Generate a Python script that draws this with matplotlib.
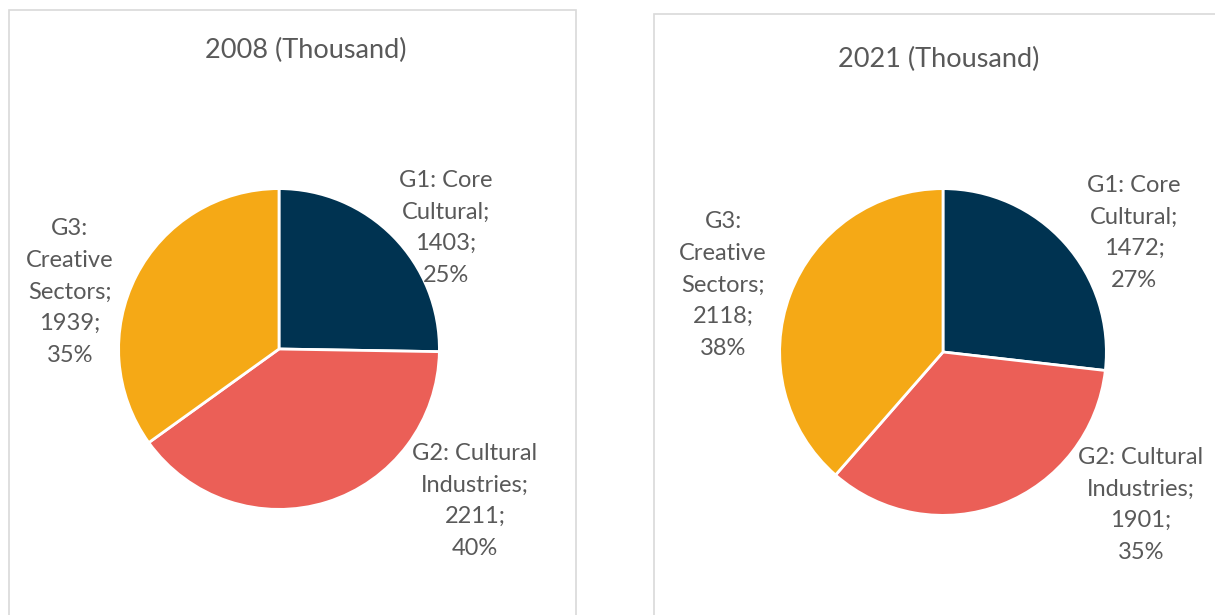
import matplotlib.pyplot as plt
from matplotlib.patches import Rectangle

W, H = 1215, 615

names = ["G1: Core\nCultural", "G2: Cultural\nIndustries", "G3:\nCreative\nSectors"]
colors = ["#003351", "#EB5F57", "#F5A916"]

titles = ["2008 (Thousand)", "2021 (Thousand)"]
values_2008 = [1403, 2211, 1939]
values_2021 = [1472, 1901, 2118]
pcts_2008 = [25, 40, 35]
pcts_2021 = [27, 35, 38]

# layout in pixels: panel box, pie centre/radius, title pos, label centres
panels = [
    dict(box=(9, 10, 576, 640), cx=279, cy=349, r=162, title=(306, 50),
         labels=[(446, 228), (475, 501), (70, 292)]),
    dict(box=(654, 14, 1240, 640), cx=943, cy=352, r=165, title=(939, 59),
         labels=[(1134, 233), (1141, 505), (723, 285)]),
]
data = [(values_2008, pcts_2008), (values_2021, pcts_2021)]

plt.rcParams['font.family'] = ['Lato', 'DejaVu Sans']
txt_color = "#595959"

fig = plt.figure(figsize=(W / 100, H / 100), dpi=100)


def fx(x):
    return x / W


def fy(y):
    return 1 - y / H


for p, (vals, pcts), title in zip(panels, data, titles):
    x0, y0, x1, y1 = p["box"]
    fig.patches.append(Rectangle((fx(x0), fy(y1)), fx(x1 - x0), (y1 - y0) / H,
                                 transform=fig.transFigure, fill=False,
                                 edgecolor="#D9D9D9", lw=1.2))
    ax = fig.add_axes([fx(p["cx"] - p["r"]), fy(p["cy"] + p["r"]),
                       2 * p["r"] / W, 2 * p["r"] / H])
    ax.pie(vals, colors=colors, startangle=90, counterclock=False,
           wedgeprops=dict(edgecolor="white", linewidth=2))
    ax.set_xlim(-1.01, 1.01)
    ax.set_ylim(-1.01, 1.01)
    ax.set_aspect("equal")
    ax.axis("off")
    fig.text(fx(p["title"][0]), fy(p["title"][1]), title, ha="center",
             va="center", fontsize=19.5, color=txt_color)
    for name, v, pc, (lx, ly) in zip(names, vals, pcts, p["labels"]):
        fig.text(fx(lx), fy(ly), f"{name};\n{v};\n{pc}%", ha="center",
                 va="center", fontsize=17, color=txt_color, linespacing=1.62,
                 multialignment="center")

fig.savefig("out.png", dpi=100)
